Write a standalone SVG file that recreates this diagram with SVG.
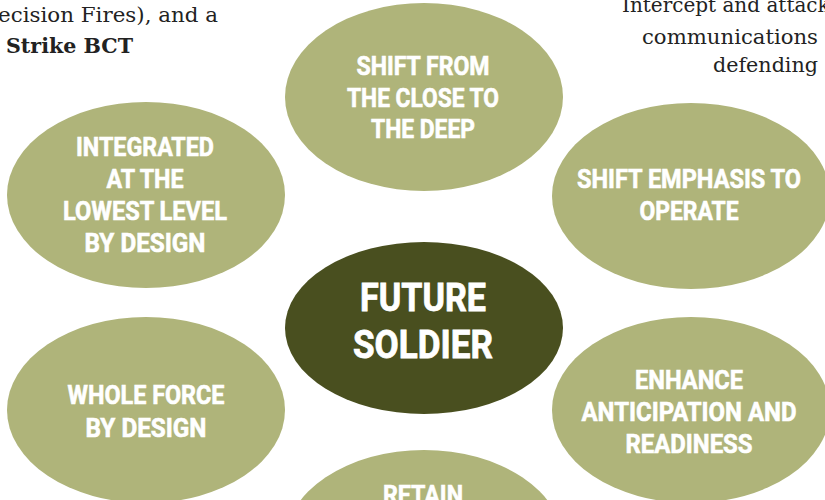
<svg xmlns="http://www.w3.org/2000/svg" width="825" height="500" viewBox="0 0 825 500">
<style>
.light{fill:#afb47a}
.dark{fill:#494f1f}
.lbl{font-family:Roboto,"Liberation Sans",sans-serif;font-weight:700;font-size:26px;fill:#ffffff;stroke:#ffffff;stroke-width:0.6px;text-anchor:middle}
.big{font-size:38px;stroke-width:0.8px}
.body{font-family:"DejaVu Serif","Liberation Serif",serif;font-size:20px;fill:#222222}
.bold{font-weight:700}
</style>
<rect width="825" height="500" fill="#ffffff"/>
<g id="page-text">
<text class="body" x="218" y="22" text-anchor="end" textLength="220" lengthAdjust="spacingAndGlyphs">ecision Fires), and a</text>
<text class="body bold" x="6" y="53" textLength="127" lengthAdjust="spacingAndGlyphs">Strike BCT</text>
<text class="body" x="622" y="12">Intercept and attack</text>
<text class="body" x="818" y="44" text-anchor="end" textLength="176" lengthAdjust="spacingAndGlyphs">communications</text>
<text class="body" x="818" y="72" text-anchor="end" textLength="105" lengthAdjust="spacingAndGlyphs">defending</text>
</g>
<g id="connectors"></g>
<g id="node-top">
<ellipse class="light" cx="424" cy="97" rx="139" ry="94"/>
<text class="lbl" x="423" y="75" textLength="133" lengthAdjust="spacingAndGlyphs">SHIFT FROM</text>
<text class="lbl" x="423" y="107" textLength="152" lengthAdjust="spacingAndGlyphs">THE CLOSE TO</text>
<text class="lbl" x="423" y="138" textLength="104" lengthAdjust="spacingAndGlyphs">THE DEEP</text>
</g>
<g id="node-upper-left">
<ellipse class="light" cx="146" cy="195" rx="139" ry="93"/>
<text class="lbl" x="145" y="156" textLength="138" lengthAdjust="spacingAndGlyphs">INTEGRATED</text>
<text class="lbl" x="145" y="188" textLength="77" lengthAdjust="spacingAndGlyphs">AT THE</text>
<text class="lbl" x="145" y="220" textLength="164" lengthAdjust="spacingAndGlyphs">LOWEST LEVEL</text>
<text class="lbl" x="145" y="252" textLength="121" lengthAdjust="spacingAndGlyphs">BY DESIGN</text>
</g>
<g id="node-upper-right">
<ellipse class="light" cx="691" cy="196" rx="139" ry="93"/>
<text class="lbl" x="689" y="188" textLength="224" lengthAdjust="spacingAndGlyphs">SHIFT EMPHASIS TO</text>
<text class="lbl" x="689" y="220" textLength="99" lengthAdjust="spacingAndGlyphs">OPERATE</text>
</g>
<g id="node-lower-left">
<ellipse class="light" cx="146" cy="410" rx="139" ry="93"/>
<text class="lbl" x="146" y="404" textLength="157" lengthAdjust="spacingAndGlyphs">WHOLE FORCE</text>
<text class="lbl" x="146" y="437" textLength="121" lengthAdjust="spacingAndGlyphs">BY DESIGN</text>
</g>
<g id="node-lower-right">
<ellipse class="light" cx="691" cy="410" rx="139" ry="93"/>
<text class="lbl" x="689" y="389" textLength="108" lengthAdjust="spacingAndGlyphs">ENHANCE</text>
<text class="lbl" x="689" y="421" textLength="215" lengthAdjust="spacingAndGlyphs">ANTICIPATION AND</text>
<text class="lbl" x="689" y="453" textLength="127" lengthAdjust="spacingAndGlyphs">READINESS</text>
</g>
<g id="node-bottom">
<ellipse class="light" cx="424" cy="543" rx="139" ry="93"/>
<text class="lbl" x="423" y="504" textLength="80" lengthAdjust="spacingAndGlyphs">RETAIN</text>
</g>
<g id="node-center">
<ellipse class="dark" cx="424" cy="328" rx="139" ry="86"/>
<text class="lbl big" x="423" y="311" textLength="126" lengthAdjust="spacingAndGlyphs">FUTURE</text>
<text class="lbl big" x="423" y="358" textLength="140" lengthAdjust="spacingAndGlyphs">SOLDIER</text>
</g>
</svg>
